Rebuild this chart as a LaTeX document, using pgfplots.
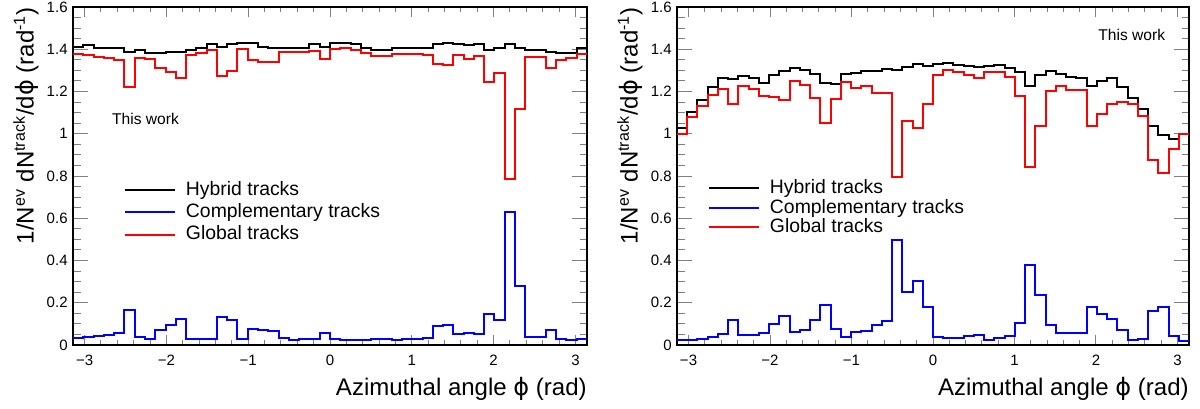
\documentclass[border=0pt]{standalone}
\usepackage{fontspec}
\setmainfont{Liberation Sans}
\newfontfamily\phifont{DejaVu Sans}
\usepackage{pgfplots}
\usepackage{pgfplotstable}
\pgfplotsset{compat=1.18}

% bin lower edges (50 bins over -pi..pi), last row repeats bin 49
% lh/lb/lr = left panel hybrid/complementary/global, rh/rb/rr = right panel
\pgfplotstableread{
x       lh     lb     lr     rh     rb     rr
-3.1416 1.412  0.034  1.377  1.028  0.024  1.000
-3.0159 1.420  0.039  1.372  1.104  0.024  1.079
-2.8903 1.408  0.041  1.365  1.162  0.030  1.131
-2.7646 1.405  0.045  1.357  1.222  0.038  1.183
-2.6389 1.405  0.055  1.349  1.266  0.050  1.214
-2.5133 1.388  0.166  1.220  1.260  0.118  1.142
-2.3876 1.396  0.037  1.357  1.274  0.047  1.225
-2.2619 1.380  0.030  1.352  1.265  0.049  1.213
-2.1363 1.380  0.070  1.310  1.238  0.056  1.178
-2.0106 1.388  0.097  1.291  1.276  0.100  1.173
-1.8850 1.388  0.123  1.263  1.299  0.135  1.162
-1.7593 1.396  0.027  1.373  1.312  0.063  1.249
-1.6336 1.404  0.027  1.384  1.304  0.071  1.230
-1.5080 1.423  0.027  1.396  1.285  0.118  1.167
-1.3823 1.412  0.134  1.274  1.241  0.188  1.049
-1.2566 1.423  0.119  1.299  1.235  0.074  1.165
-1.1310 1.431  0.030  1.399  1.285  0.038  1.244
-1.0053 1.428  0.077  1.349  1.288  0.061  1.217
-0.8796 1.412  0.069  1.341  1.296  0.064  1.225
-0.7540 1.408  0.066  1.341  1.296  0.097  1.194
-0.6283 1.405  0.034  1.385  1.307  0.113  1.194
-0.5027 1.405  0.023  1.385  1.301  0.495  0.795
-0.3770 1.408  0.030  1.388  1.317  0.253  1.060
-0.2513 1.423  0.030  1.393  1.331  0.301  1.028
-0.1257 1.412  0.056  1.354  1.320  0.180  1.139
 0.0000 1.428  0.030  1.399  1.328  0.039  1.280
 0.1257 1.431  0.025  1.404  1.335  0.031  1.301
 0.2513 1.423  0.023  1.396  1.324  0.035  1.291
 0.3770 1.404  0.023  1.384  1.320  0.041  1.280
 0.5027 1.396  0.028  1.368  1.315  0.047  1.265
 0.6283 1.396  0.028  1.368  1.320  0.024  1.293
 0.7540 1.404  0.025  1.377  1.326  0.033  1.293
 0.8796 1.404  0.030  1.377  1.312  0.041  1.269
 1.0053 1.404  0.030  1.377  1.293  0.104  1.181
 1.1310 1.406  0.031  1.373  1.228  0.381  0.843
 1.2566 1.425  0.089  1.330  1.276  0.235  1.036
 1.3823 1.428  0.097  1.325  1.296  0.093  1.202
 1.5080 1.425  0.050  1.373  1.285  0.055  1.225
 1.6336 1.420  0.059  1.354  1.268  0.058  1.209
 1.7593 1.423  0.052  1.368  1.263  0.056  1.206
 1.8850 1.396  0.148  1.244  1.225  0.180  1.036
 2.0106 1.404  0.116  1.286  1.249  0.147  1.094
 2.1363 1.425  0.630  0.785  1.265  0.125  1.139
 2.2619 1.404  0.281  1.118  1.222  0.069  1.151
 2.3876 1.398  0.037  1.362  1.170  0.025  1.143
 2.5133 1.398  0.039  1.362  1.115  0.027  1.083
 2.6389 1.388  0.072  1.310  1.039  0.160  0.878
 2.7646 1.380  0.028  1.349  0.993  0.179  0.813
 2.8903 1.382  0.025  1.357  0.975  0.042  0.930
 3.0159 1.406  0.027  1.377  1.000  0.017  1.000
 3.1416 1.406  0.027  1.377  1.000  0.017  1.000
}\phidata

\pgfplotsset{
  rootstyle/.style={
    scale only axis,
    height=169pt,
    xmin=-3.1416, xmax=3.1416,
    ymin=0, ymax=1.6,
    axis line style={line width=0.9pt},
    tick align=inside,
    xtick pos=both, ytick pos=both,
    xtick={-3,-2,-1,0,1,2,3},
    xticklabels={−3,−2,−1,0,1,2,3},
    ytick={0,0.2,0.4,0.6,0.8,1,1.2,1.4,1.6},
    yticklabels={0,0.2,0.4,0.6,0.8,1,1.2,1.4,1.6},
    minor x tick num=4,
    minor y tick num=3,
    xtick style={line width=0.5pt, /pgfplots/major tick length=5pt, /pgfplots/minor tick length=2.5pt},
    ytick style={line width=0.5pt, /pgfplots/major tick length=7.5pt, /pgfplots/minor tick length=3.75pt},
    tick label style={font=\fontsize{7.5}{9}\selectfont},
    xticklabel style={inner xsep=0pt, inner ysep=5pt},
    yticklabel style={inner xsep=2.5pt, inner ysep=0pt},
    every axis x label/.style={at={(axis description cs:1,-0.15)}, anchor=base east, inner sep=0pt, font=\fontsize{12}{14}\selectfont},
    every axis y label/.style={at={(axis description cs:-0.0768,1)}, rotate=90, anchor=base east, inner sep=0pt, font=\fontsize{12}{14}\selectfont},
    xlabel={Azimuthal angle {\phifont ϕ} (rad)},
    ylabel={1/N\textsuperscript{ev} dN\textsuperscript{track}/d{\phifont ϕ} (rad\textsuperscript{-1})},
    legend cell align=left,
    legend image code/.code={\draw[#1, line width=1pt] (0pt,0pt) -- (24.6pt,0pt);},
    every axis plot/.append style={const plot, line width=1pt},
  },
}

\begin{document}
\begin{tikzpicture}
\useasboundingbox (0,0) rectangle (600pt,204pt);

\begin{axis}[rootstyle, width=257pt, at={(36.5pt,31.5pt)}, anchor=south west,
  legend style={draw=none, fill=none, inner sep=0pt, row sep=1.4pt, column sep=5.2pt,
    at={(axis description cs:0.0992,0.488)}, anchor=north west,
    font=\fontsize{9.7}{11}\selectfont,
    nodes={inner sep=0pt, text height=0.75em, text depth=0.22em}}]
\addplot[black] table[x=x, y=lh] {\phidata};
\addplot[blue] table[x=x, y=lb] {\phidata};
\addplot[red] table[x=x, y=lr] {\phidata};
\legend{Hybrid tracks, Complementary tracks, Global tracks}
\node[anchor=base west, inner sep=0pt, font=\fontsize{7.8}{9}\selectfont] at (axis cs:-2.668,1.043) {This work};
\end{axis}

\begin{axis}[rootstyle, width=256pt, at={(338.5pt,31.5pt)}, anchor=south west,
  legend style={draw=none, fill=none, inner sep=0pt, row sep=0.1pt, column sep=5.2pt,
    at={(axis description cs:0.0605,0.494)}, anchor=north west,
    font=\fontsize{9.7}{11}\selectfont,
    nodes={inner sep=0pt, text height=0.75em, text depth=0.22em}}]
\addplot[black] table[x=x, y=rh] {\phidata};
\addplot[blue] table[x=x, y=rb] {\phidata};
\addplot[red] table[x=x, y=rr] {\phidata};
\legend{Hybrid tracks, Complementary tracks, Global tracks}
\node[anchor=base west, inner sep=0pt, font=\fontsize{7.8}{9}\selectfont] at (axis cs:2.025,1.441) {This work};
\end{axis}
\end{tikzpicture}
\end{document}
